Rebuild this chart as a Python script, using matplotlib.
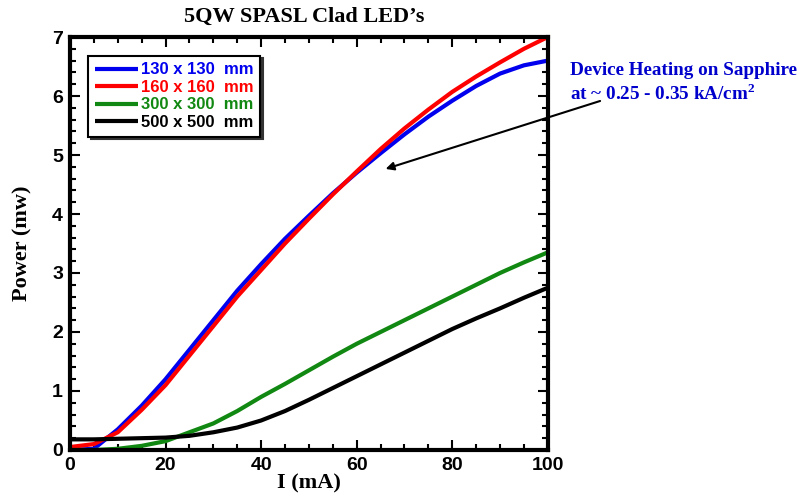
import matplotlib.pyplot as plt
from matplotlib.ticker import MultipleLocator

current = [0, 5, 10, 15, 20, 25, 30, 35, 40, 45, 50, 55, 60, 65, 70, 75, 80, 85, 90, 95, 100]

p_130 = [0.0, 0.02, 0.35, 0.75, 1.2, 1.7, 2.2, 2.7, 3.15, 3.58, 3.97, 4.35, 4.7, 5.03, 5.35, 5.65, 5.92, 6.17, 6.38, 6.52, 6.6]
p_160 = [0.05, 0.1, 0.3, 0.68, 1.1, 1.6, 2.1, 2.6, 3.05, 3.5, 3.92, 4.33, 4.72, 5.1, 5.45, 5.77, 6.07, 6.33, 6.57, 6.8, 7.0]
p_300 = [0.0, 0.0, 0.02, 0.07, 0.15, 0.3, 0.45, 0.66, 0.9, 1.12, 1.35, 1.58, 1.8, 2.0, 2.2, 2.4, 2.6, 2.8, 3.0, 3.18, 3.35]
p_500 = [0.18, 0.18, 0.19, 0.2, 0.21, 0.24, 0.3, 0.38, 0.5, 0.66, 0.85, 1.05, 1.25, 1.45, 1.65, 1.85, 2.05, 2.23, 2.4, 2.58, 2.75]

series = [
    ("130 x 130  mm", p_130, "#0000ee"),
    ("160 x 160  mm", p_160, "#ff0000"),
    ("300 x 300  mm", p_300, "#118811"),
    ("500 x 500  mm", p_500, "#000000"),
]

serif = "Liberation Serif"
sans = "Liberation Sans"
plt.rcParams["mathtext.fontset"] = "custom"
plt.rcParams["mathtext.rm"] = "Liberation Serif:bold"
plt.rcParams["mathtext.bf"] = "Liberation Serif:bold"

fig = plt.figure(figsize=(7.99, 5.03), dpi=100)
ax = fig.add_axes([0.0876, 0.1054, 0.598, 0.821])

for label, vals, color in series:
    ax.plot(current, vals, color=color, lw=3, label=label, solid_capstyle="butt")

ax.set_xlim(0, 100)
ax.set_ylim(0, 7)
ax.xaxis.set_major_locator(MultipleLocator(20))
ax.xaxis.set_minor_locator(MultipleLocator(5))
ax.yaxis.set_major_locator(MultipleLocator(1))
ax.yaxis.set_minor_locator(MultipleLocator(0.2))
ax.tick_params(which="both", direction="in", top=True, right=True, width=1.5)
ax.tick_params(which="major", length=7, labelsize=14, pad=5)
ax.tick_params(which="minor", length=4)
for lab in ax.get_xticklabels() + ax.get_yticklabels():
    lab.set_fontfamily(sans)
    lab.set_fontweight("bold")
for sp in ax.spines.values():
    sp.set_linewidth(3)

ax.set_xlabel("I (mA)", fontfamily=serif, fontweight="bold", fontsize=16, labelpad=0)
ax.set_ylabel("Power (mw)", fontfamily=serif, fontweight="bold", fontsize=16, labelpad=14)
fig.text(0.381, 0.966, "5QW SPASL Clad LED\u2019s", fontfamily=serif, fontweight="bold",
         fontsize=16, ha="center", va="center")

leg = ax.legend(loc="upper left", bbox_to_anchor=(0.02, 0.975), frameon=True, fancybox=False,
                shadow={"color": "#333333", "alpha": 1}, handlelength=2.6, handletextpad=0.2,
                borderpad=0.4, labelspacing=0.15,
                prop={"family": sans, "weight": "bold", "size": 12})
leg.get_frame().set_edgecolor("black")
leg.get_frame().set_linewidth(1.5)
for text, (_, _, color) in zip(leg.get_texts(), series):
    text.set_color(color)

ax.annotate("", xy=(65.5, 4.75), xytext=(111.5, 5.93), xycoords="data",
            arrowprops=dict(arrowstyle="-|>", color="black", lw=1.5, mutation_scale=12),
            annotation_clip=False)
fig.text(0.713, 0.835, "Device Heating on Sapphire\nat ~ 0.25 - 0.35 kA/cm$^{2}$",
         color="#0000cc", fontfamily=serif, fontweight="bold", fontsize=13.8,
         va="center", ha="left", linespacing=1.3)

fig.savefig("out.png", dpi=100)
